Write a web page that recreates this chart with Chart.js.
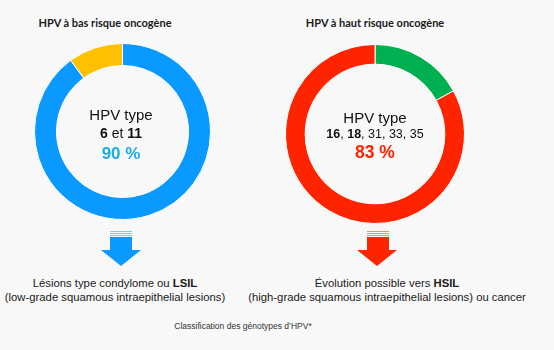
<!DOCTYPE html>
<html>
<head>
<meta charset="utf-8">
<script src="https://cdn.jsdelivr.net/npm/chart.js@4"></script>
<style>
  html, body { margin: 0; padding: 0; background: #f8f8f8; }
  #wrap { position: relative; width: 554px; height: 350px; overflow: hidden; font-family: 'Liberation Sans', Arial, sans-serif; color: #111; }
  .abs { position: absolute; }
  .title { font-family: Lato, 'Open Sans', sans-serif; font-weight: bold; font-size: 11px; color: #1a1a1a; text-align: center; width: 200px; }
  .center { text-align: center; width: 140px; line-height: 1; white-space: nowrap; }
  .center b { font-weight: bold; }
  .desc { text-align: center; font-size: 11.3px; color: #1a1a1a; width: 300px; line-height: 14px; white-space: nowrap; }
  .stripes { height: 6px; }
  .body { height: 13px; }
  .head { width: 0; height: 0; border-left: 20.5px solid transparent; border-right: 20.5px solid transparent; border-top-width: 16px; border-top-style: solid; }
</style>
</head>
<body>
<div id="wrap">
  <div class="abs title" id="titleLow" style="left:5px; top:16px;"></div>
  <div class="abs title" id="titleHigh" style="left:275px; top:16px;"></div>

  <canvas id="lowChart" class="abs" width="177" height="177" style="left:34px; top:43px;"></canvas>
  <canvas id="highChart" class="abs" width="180" height="180" style="left:285px; top:44px;"></canvas>

  <div class="abs center" style="left:51px; top:107px; font-size:15px;">HPV type</div>
  <div class="abs center" style="left:51px; top:126px; font-size:14px;"><b>6</b> et <b>11</b></div>
  <div class="abs center" id="pctLow" style="left:51px; top:145px; font-size:17px; font-weight:bold; color:#1aabec;"></div>

  <div class="abs center" style="left:305px; top:110px; font-size:15px;">HPV type</div>
  <div class="abs center" style="left:305px; top:128px; font-size:12.5px;"><b>16</b>, <b>18</b>, 31, 33, 35</div>
  <div class="abs center" id="pctHigh" style="left:305px; top:144px; font-size:17.5px; font-weight:bold; color:#ff2200;"></div>

  <!-- arrows -->
  <div class="abs stripes" style="left:110px; top:231px; width:22px; background: repeating-linear-gradient(to bottom, #7cc8ff 0px, #7cc8ff 1px, #f8f8f8 1px, #f8f8f8 2px);"></div>
  <div class="abs body" style="left:110px; top:237px; width:22px; background:#0a99ff;"></div>
  <div class="abs head" style="left:101px; top:250px; border-top-color:#0a99ff;"></div>

  <div class="abs stripes" style="left:367px; top:231px; width:22px; background: repeating-linear-gradient(to bottom, #ff8a70 0px, #ff8a70 1px, #f8f8f8 1px, #f8f8f8 2px);"></div>
  <div class="abs body" style="left:367px; top:237px; width:22px; background:#ff2400;"></div>
  <div class="abs head" style="left:357px; top:250px; border-top-color:#ff2400;"></div>

  <div class="abs desc" style="left:-35px; top:276px;">Lésions type condylome ou <b>LSIL</b><br>(low-grade squamous intraepithelial lesions)</div>
  <div class="abs desc" style="left:237px; top:276px;">Évolution possible vers <b>HSIL</b><br>(high-grade squamous intraepithelial lesions) ou cancer</div>

  <div class="abs" style="left:143px; top:321px; width:200px; text-align:center; font-size:8.5px; color:#333;">Classification des génotypes d’HPV*</div>
</div>

<script>
// chart data
const titles = ['HPV à bas risque oncogène', 'HPV à haut risque oncogène'];
const lowLabels = ['HPV 6 et 11', 'Autres'];
const lowValues = [90, 10];
const lowColors = ['#0a99ff', '#ffc000'];
const highLabels = ['Autres', 'HPV 16, 18, 31, 33, 35'];
const highValues = [17, 83];
const highColors = ['#00b050', '#ff2400'];

document.getElementById('titleLow').textContent = titles[0];
document.getElementById('titleHigh').textContent = titles[1];
document.getElementById('pctLow').textContent = lowValues[0] + ' %';
document.getElementById('pctHigh').textContent = highValues[1] + ' %';

function makeDonut(id, labels, values, colors, cutout) {
    return new Chart(document.getElementById(id).getContext('2d'), {
        type: 'doughnut',
        data: {
            labels: labels,
            datasets: [{
                data: values,
                backgroundColor: colors,
                borderColor: '#ffffff',
                borderWidth: 1
            }]
        },
        options: {
            responsive: false,
            animation: false,
            cutout: cutout,
            layout: { padding: 0 },
            plugins: {
                legend: { display: false },
                tooltip: { enabled: false }
            }
        }
    });
}

const lowChart = makeDonut('lowChart', lowLabels, lowValues, lowColors, '75%');
const highChart = makeDonut('highChart', highLabels, highValues, highColors, '78%');
</script>
</body>
</html>
